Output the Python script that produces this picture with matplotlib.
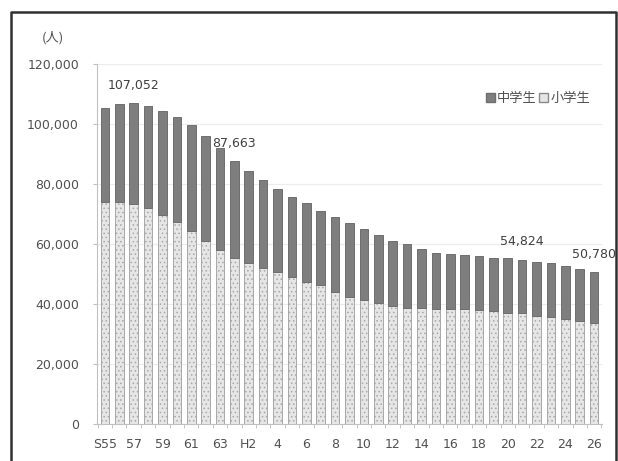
import matplotlib
matplotlib.use("Agg")
import matplotlib.pyplot as plt
from matplotlib.patches import Patch
from matplotlib.lines import Line2D
import numpy as np

plt.rcParams['font.family'] = ['DejaVu Sans', 'Noto Sans CJK JP']
plt.rcParams['hatch.color'] = '#c4c4c4'
plt.rcParams['hatch.linewidth'] = 0.6

years = ["S55", "S56", "S57", "S58", "S59", "S60", "S61", "S62", "S63",
         "H1", "H2", "H3", "H4", "H5", "H6", "H7", "H8", "H9", "H10",
         "H11", "H12", "H13", "H14", "H15", "H16", "H17", "H18", "H19", "H20",
         "H21", "H22", "H23", "H24", "H25", "H26"]
tick_labels = ["S55", "57", "59", "61", "63", "H2", "4", "6", "8", "10",
               "12", "14", "16", "18", "20", "22", "24", "26"]
elementary = [74100, 73900, 73300, 71900, 69700, 67200, 64300, 60900, 58100,
              55500, 53700, 51900, 50700, 49100, 47400, 46300, 44100, 42200, 41300,
              40400, 39400, 38800, 38600, 38300, 38300, 38200, 38000, 37700, 37100,
              36900, 36000, 35600, 34900, 34400, 33800]
junior = [31100, 32600, 33752, 34100, 34600, 35100, 35300, 35100, 33900,
          32163, 30700, 29400, 27600, 26700, 26100, 24700, 25000, 24700, 23600,
          22600, 21700, 21100, 19600, 18800, 18300, 18000, 18000, 17800, 18200,
          17924, 18100, 18000, 17900, 17300, 16980]
label_years = ["S57", "H1", "H21", "H26"]

W, H = 618, 461
fig = plt.figure(figsize=(W / 100, H / 100), dpi=100)
fig.patch.set_facecolor('white')

ax = fig.add_axes([97 / W, (H - 424) / H, (602 - 97) / W, (424 - 64) / H])
x = np.arange(len(years))
el = np.array(elementary)
ju = np.array(junior)

ax.bar(x, el, width=0.6, color='#e6e6e6', edgecolor='#a8a8a8', linewidth=0.7,
       hatch='....', zorder=3, label='小学生')
ax.bar(x, ju, bottom=el, width=0.6, color='#7e7e7e', edgecolor='#6e6e6e',
       linewidth=0.7, zorder=3, label='中学生')

for yname in label_years:
    i = years.index(yname)
    tot = el[i] + ju[i]
    ax.annotate(f"{tot:,}", (i, tot), xytext=(0, 8), textcoords='offset points',
                ha='center', va='bottom', fontsize=9, color='#404040', zorder=2)

ax.set_xlim(-0.55, len(years) - 0.45)
ax.set_ylim(0, 120000)
ax.set_yticks(np.arange(0, 120001, 20000))
ax.set_yticklabels([f"{v:,}" for v in range(0, 120001, 20000)])
ax.set_xticks(x[::2])
ax.set_xticklabels(tick_labels)
ax.set_xticks(np.arange(-0.5, len(years), 1), minor=True)
ax.tick_params(axis='x', which='major', length=0, pad=10, labelsize=9, labelcolor='#505050')
ax.tick_params(axis='x', which='minor', length=3, color='#c0c0c0')
ax.tick_params(axis='y', length=3, color='#c0c0c0', labelsize=9, labelcolor='#505050', pad=10)
ax.grid(axis='y', color='#ececec', linewidth=0.8, zorder=0)
ax.set_axisbelow(True)
for s in ['top', 'right']:
    ax.spines[s].set_visible(False)
for s in ['left', 'bottom']:
    ax.spines[s].set_color('#c0c0c0')
    ax.spines[s].set_linewidth(0.8)

handles = [Patch(facecolor='#7e7e7e', edgecolor='#6e6e6e', label='中学生'),
           Patch(facecolor='#e6e6e6', edgecolor='#8a8a8a', label='小学生')]
ax.legend(handles=handles, loc='upper right', bbox_to_anchor=(1.0, 0.955), ncol=2,
          frameon=False, handlelength=0.7, handleheight=0.7, handletextpad=0.15,
          columnspacing=0.2, prop={'family': 'Noto Sans CJK JP', 'size': 9.5},
          labelcolor='#505050')

fig.text(42 / W, 1 - 38 / H, "(人)", fontsize=9.5, color='#505050',
         family=['Noto Sans CJK JP'], va='center', ha='left')

xl, xr, yt = 11 / W, 616 / W, 1 - 12 / H
fig.add_artist(Line2D([xl, xl, xr, xr], [-0.1, yt, yt, -0.1],
                      transform=fig.transFigure, color='#303030', linewidth=1.8))

fig.savefig("out.png", dpi=100)
